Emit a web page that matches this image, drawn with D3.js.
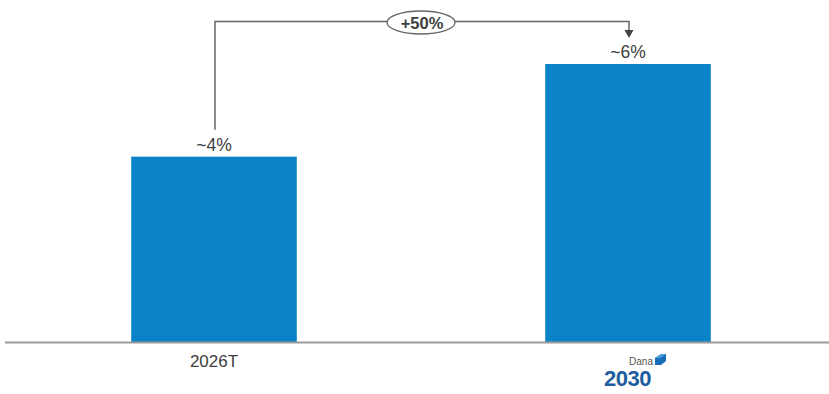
<!DOCTYPE html>
<html><head><meta charset="utf-8">
<script src="https://cdn.jsdelivr.net/npm/d3@7"></script>
<style>body{margin:0;background:#fff;}svg{display:block;font-family:Arial,"Liberation Sans",sans-serif;}</style>
</head><body>
<script>
const categories = ["2026T", "2030"];
const values = [4, 6];
const valueLabels = ["~4%", "~6%"];
const growthLabel = "+50%";

const W = 829, H = 394;
const baseY = 342;
const svg = d3.select("body").append("svg").attr("width", W).attr("height", H);

const x = d3.scaleBand().domain(categories).range([7, 835]).paddingInner(0.6).paddingOuter(0.3);
const y = d3.scaleLinear().domain([0, 6]).range([baseY, 64]);

// bars
svg.selectAll("rect.bar").data(values).enter().append("rect")
  .attr("class", "bar")
  .attr("x", (d, i) => x(categories[i]))
  .attr("width", x.bandwidth())
  .attr("y", d => y(d))
  .attr("height", d => baseY - y(d))
  .attr("fill", "#0a82c8");

// axis line
svg.append("line").attr("x1", 5).attr("x2", W).attr("y1", baseY + 0.5).attr("y2", baseY + 0.5)
  .attr("stroke", "#9a9a9a").attr("stroke-width", 2);

// value labels
svg.selectAll("text.val").data(values).enter().append("text")
  .attr("class", "val")
  .attr("x", (d, i) => x(categories[i]) + x.bandwidth() / 2)
  .attr("y", d => y(d) - 6)
  .attr("text-anchor", "middle")
  .attr("font-size", 17.5)
  .attr("fill", "#404040")
  .text((d, i) => valueLabels[i]);

// category label 1
svg.append("text")
  .attr("x", x(categories[0]) + x.bandwidth() / 2)
  .attr("y", 367)
  .attr("text-anchor", "middle")
  .attr("font-size", 17)
  .attr("fill", "#404040")
  .text(categories[0]);

// 2030 logo
const lx = x(categories[1]) + x.bandwidth() / 2;
const logo = svg.append("g");
logo.append("text").attr("x", lx + 13).attr("y", 365).attr("text-anchor", "middle")
  .attr("font-size", 10).attr("fill", "#555").text("Dana");
logo.append("polygon")
  .attr("points", `${lx+27},${358} ${lx+33},${354} ${lx+38},${354} ${lx+38},${361} ${lx+33},${365} ${lx+27},${365}`)
  .attr("fill", "#1a6db8");
logo.append("polygon")
  .attr("points", `${lx+27},${358} ${lx+33},${354} ${lx+38},${354} ${lx+32},${358}`)
  .attr("fill", "#4fa3e0");
logo.append("text").attr("x", lx - 0.5).attr("y", 386).attr("text-anchor", "middle")
  .attr("font-size", 22).attr("font-weight", "bold").attr("fill", "#1d5d9e")
  .attr("letter-spacing", -0.5).text(categories[1]);

// bracket
const x1 = x(categories[0]) + x.bandwidth() / 2 + 1;
const x2 = x(categories[1]) + x.bandwidth() / 2 + 1;
const topY = 21.5;
svg.append("path")
  .attr("d", `M${x1},${y(values[0]) - 27} V${topY} H${x2} V${31}`)
  .attr("fill", "none").attr("stroke", "#666").attr("stroke-width", 1.5);
svg.append("path")
  .attr("d", `M${x2 - 4.5},${30} L${x2 + 4.5},${30} L${x2},${38} Z`)
  .attr("fill", "#444");
const ex = 421;
svg.append("ellipse").attr("cx", ex).attr("cy", 22.5).attr("rx", 34).attr("ry", 11.5)
  .attr("fill", "#fff").attr("stroke", "#666").attr("stroke-width", 1.3);
svg.append("text").attr("x", ex + 1).attr("y", 28.5).attr("text-anchor", "middle")
  .attr("font-size", 16.5).attr("font-weight", "bold").attr("fill", "#404040").text(growthLabel);
</script>
</body></html>
